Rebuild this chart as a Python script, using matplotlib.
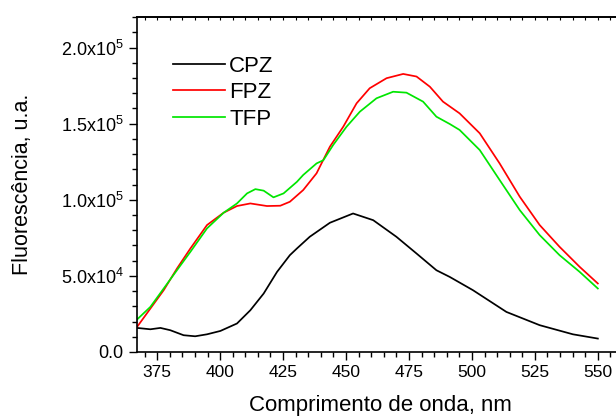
import numpy as np
import matplotlib
matplotlib.use("Agg")
import matplotlib.pyplot as plt
from matplotlib.ticker import MultipleLocator, FuncFormatter

plt.rcParams['font.family'] = ['Liberation Sans', 'DejaVu Sans']
plt.rcParams['mathtext.fontset'] = 'custom'
plt.rcParams['mathtext.rm'] = 'Liberation Sans'
plt.rcParams['mathtext.it'] = 'Liberation Sans:italic'

# values (wavelength nm, fluorescence)
cpz_x = [367, 372.3, 376.3, 380.2, 385.5, 390.1, 394.8, 400.1, 406.7, 412, 417.3,
         422.6, 427.7, 430.5, 435.6, 443.6, 452.8, 460.8, 470, 478, 485.9, 491.2,
         500.4, 513.7, 526.9, 540.1, 550]
cpz_y = [15.8e3, 14.9e3, 15.8e3, 14.3e3, 11.0e3, 10.3e3, 11.6e3, 13.8e3, 18.7e3, 27.4e3, 38.4e3,
         52.6e3, 63.6e3, 68e3, 75.7e3, 84.9e3, 91e3, 86.6e3, 75.7e3, 64.7e3, 53.7e3, 49.3e3,
         40.6e3, 26.3e3, 17.6e3, 11.6e3, 8.8e3]

fpz_x = [367, 372.3, 377.6, 382.9, 388.2, 394.8, 401.4, 406.7, 412, 418.6, 423.9,
         427.7, 433, 438.3, 443.6, 448.9, 454.2, 459.4, 466.1, 472.7, 478, 483.3,
         488.5, 495.1, 503.1, 511, 519, 526.9, 534.8, 542.8, 550]
fpz_y = [16.4e3, 28.5e3, 40.6e3, 54.9e3, 68e3, 83.4e3, 91.5e3, 95.9e3, 97.6e3, 95.9e3, 96.1e3,
         98.7e3, 106.4e3, 117.4e3, 134.9e3, 148e3, 163.4e3, 173.3e3, 179.9e3, 182.7e3, 181e3, 174.3e3,
         164.5e3, 156.8e3, 143.7e3, 123.9e3, 102e3, 83.4e3, 69.1e3, 55.9e3, 45e3]

tfp_x = [367, 372.3, 377.6, 382.9, 388.2, 394.8, 401.4, 406.7, 410.7, 414, 417.3,
         421.2, 425.2, 430.5, 433, 438.3, 441, 444.9, 450.2, 455.5, 462.1, 468.7,
         474, 480.6, 485.9, 491.2, 495.1, 503.1, 511, 519, 526.9, 534.8, 542.8, 550]
tfp_y = [21.3e3, 29.6e3, 41.7e3, 53.8e3, 65.8e3, 81.2e3, 91.5e3, 97.6e3, 104.2e3, 107e3, 106e3,
         101.6e3, 104.2e3, 111.8e3, 116.3e3, 123.9e3, 126e3, 136e3, 148e3, 157.9e3, 166.7e3, 171e3,
         170.4e3, 164.5e3, 154.6e3, 149.8e3, 145.9e3, 132.7e3, 113e3, 93.2e3, 76.8e3, 63.6e3, 52.6e3, 41.7e3]

fig = plt.figure(figsize=(6.16, 4.19), dpi=100)
ax = fig.add_axes([0.2224, 0.16, 0.789, 0.799])

ax.plot(cpz_x, cpz_y, color='black', lw=1.25, label='CPZ')
ax.plot(fpz_x, fpz_y, color='#ff0000', lw=1.25, label='FPZ')
ax.plot(tfp_x, tfp_y, color='#00e600', lw=1.25, label='TFP')

ax.set_xlim(367, 560)
ax.set_ylim(0, 2.2e5)

ax.xaxis.set_major_locator(MultipleLocator(25))
ax.xaxis.set_minor_locator(MultipleLocator(5))
ax.yaxis.set_major_locator(MultipleLocator(5e4))
ax.yaxis.set_minor_locator(MultipleLocator(1e4))

def yfmt(v, pos):
    if v <= 0:
        return '0.0'
    e = int(np.floor(np.log10(v)))
    return r'%.1fx10$^{%d}$' % (v / 10**e, e)

ax.yaxis.set_major_formatter(FuncFormatter(yfmt))
ax.tick_params(which='major', direction='out', length=6, width=1, labelsize=12.5,
               top=False, right=False)
ax.tick_params(axis='y', labelsize=13)
ax.tick_params(which='minor', direction='out', length=3.5, width=1, top=False, right=False)

sec = ax.secondary_xaxis('top')
sec.xaxis.set_major_locator(MultipleLocator(5))
sec.tick_params(direction='in', length=2, labeltop=False)

for s in ax.spines.values():
    s.set_linewidth(1.2)
sec.spines['top'].set_linewidth(1.2)

ax.set_xlabel('Comprimento de onda, nm', fontsize=16, labelpad=11)
ax.set_ylabel('Fluorescência, u.a.', fontsize=15.5, labelpad=20)

ax.legend(loc='upper left', bbox_to_anchor=(0.075, 0.885), frameon=False, fontsize=16,
          handlelength=2.3, handletextpad=0.2, labelspacing=0.25, borderpad=0, borderaxespad=0)

fig.savefig('out.png', dpi=100)
